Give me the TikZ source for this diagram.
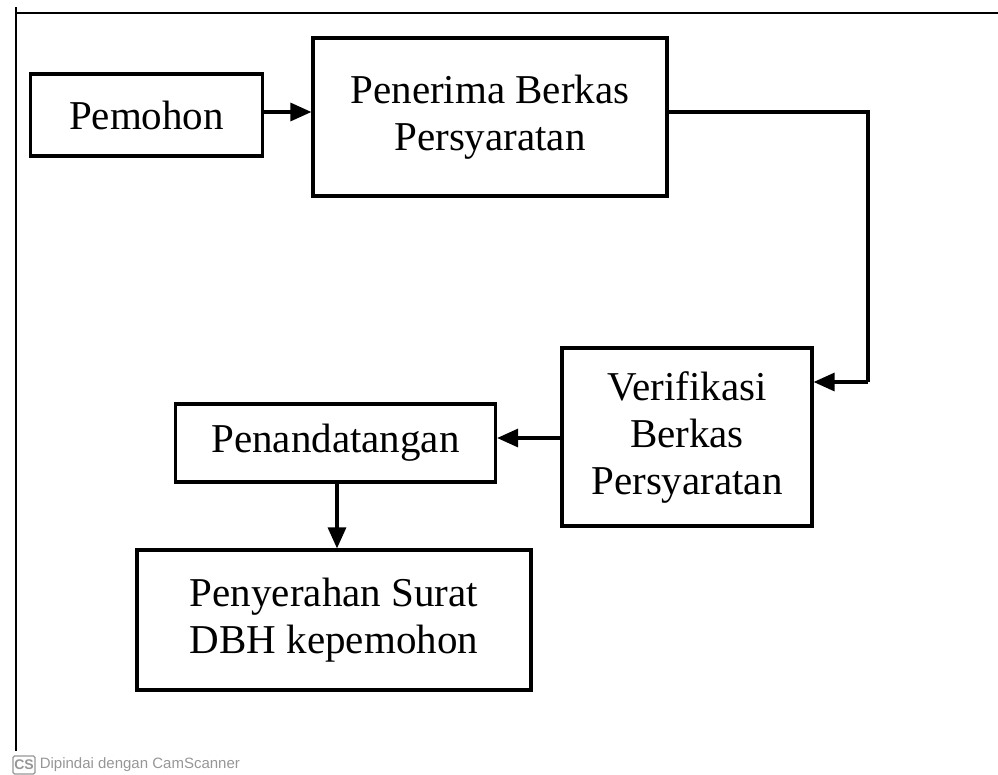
\documentclass[tikz,border=0pt]{standalone}
\usepackage{fontspec}
\setmainfont{Liberation Serif}
\newfontfamily\wmfont{Liberation Sans}
\usetikzlibrary{arrows.meta}
\definecolor{wmgrey}{RGB}{150,150,150}
\tikzset{
  procbox/.style={draw=black, line width=3.2pt, align=center, inner sep=0pt,
    font=\fontsize{41}{47}\selectfont},
  flow/.style={line width=3.2pt, -{Triangle[length=21pt,width=18pt]}},
  frameline/.style={line width=2.4pt},
}
\begin{document}
\begin{tikzpicture}[x=1pt,y=-1pt]
\useasboundingbox (0,0) rectangle (998,774);
% frame
\coordinate (ftl) at (16,13);
\coordinate (ftr) at (998,13);
\coordinate (fltop) at (16,7);
\coordinate (flbot) at (16,751);
\draw[frameline] (ftl) -- (ftr);
\draw[frameline] (fltop) -- (flbot);
% boxes
\node[procbox, minimum width=232pt, minimum height=82pt] (pem) at (146.5,115) {Pemohon};
\node[procbox, minimum width=354pt, minimum height=158pt] (pen) at (490,117) {Penerima Berkas\\Persyaratan};
\node[procbox, minimum width=250pt, minimum height=178pt] (ver) at (687,437) {Verifikasi\\Berkas\\Persyaratan};
\node[procbox, minimum width=320pt, minimum height=78pt] (tt) at (335.5,443) {Penandatangan};
\node[procbox, minimum width=394pt, minimum height=140pt] (ser) at (334,620) {Penyerahan Surat\\DBH kepemohon};
% connectors
\coordinate (c1) at (868,112);
\coordinate (c2) at (868,382);
\coordinate (r1) at (0,112);
\coordinate (r2) at (0,438);
\coordinate (r3) at (337,0);
\draw[flow] (r1 -| pem.east) -- (r1 -| pen.west);
\draw[line width=3.2pt] (c1 -| pen.east) -- (c1) -- (c2);
\draw[flow] (c2) -- (c2 -| ver.east);
\draw[flow] (r2 -| ver.west) -- (r2 -| tt.east);
\draw[flow] (r3 |- tt.south) -- (r3 |- ser.north);
% watermark
\node[draw=wmgrey, line width=1.2pt, rounded corners=1.5pt, inner sep=1pt, text=wmgrey,
  font=\wmfont\bfseries\fontsize{14}{14}\selectfont, minimum width=22pt, minimum height=18pt] (cs) at (24,765) {CS};
\node[anchor=west, text=wmgrey, font=\wmfont\fontsize{15}{15}\selectfont, inner sep=0pt] (wm) at ([xshift=4pt]cs.east) {Dipindai dengan CamScanner};
\end{tikzpicture}
\end{document}
